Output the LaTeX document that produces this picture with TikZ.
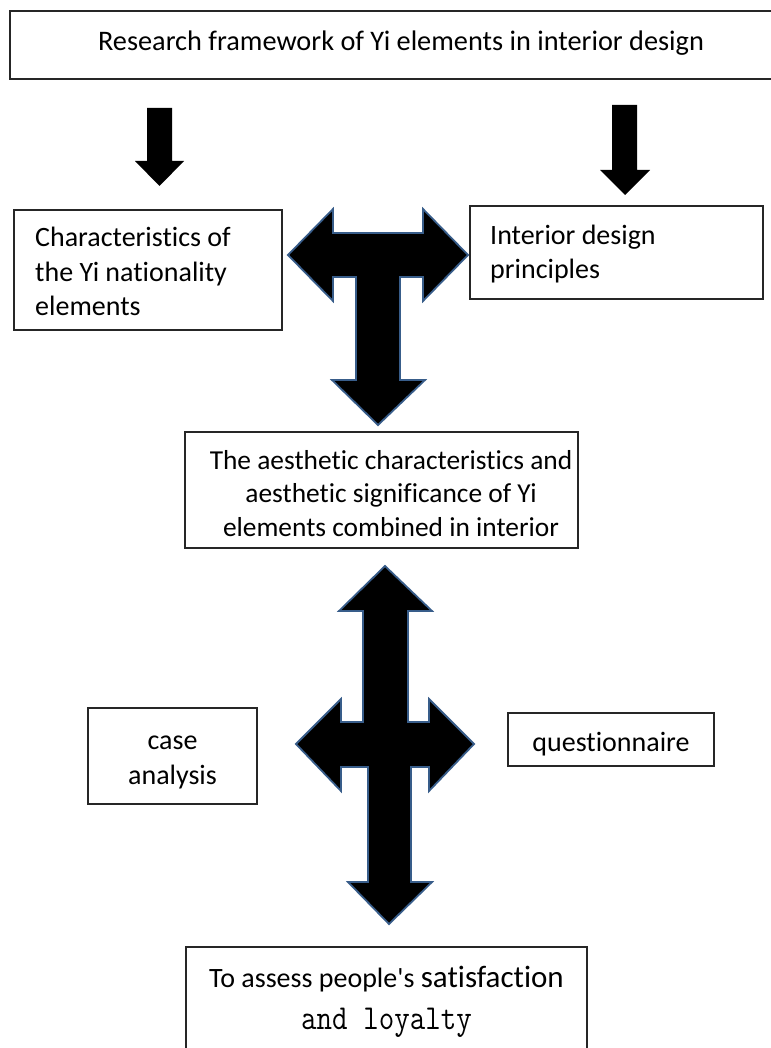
\documentclass[tikz,border=0pt]{standalone}
\usepackage{graphicx}
\usepackage{fontspec}
\setmainfont{Carlito}[Ligatures={TeXOff,CommonOff,ContextualOff},RawFeature=-calt]
\definecolor{arrowline}{HTML}{385D8A}
\begin{document}
\begin{tikzpicture}[x=1pt,y=-1pt,
  box/.style={draw=black!85, line width=1.2pt, inner sep=0pt},
  lbl/.style={inner sep=0pt, font=\fontsize{28}{34.5}\selectfont},
  blockarrow/.style={fill=black, draw=arrowline, line width=1.8pt, line join=miter},
  smallarrow/.style={fill=black}]
\useasboundingbox (0,0) rectangle (770,1048);
\fill[white] (0,0) rectangle (770,1048);

% boxes
\node[box, minimum width=762pt, minimum height=68pt] (topbox) at (391,45) {};
\node[box, minimum width=268pt, minimum height=120pt] (leftbox) at (148,270) {};
\node[box, minimum width=293pt, minimum height=93pt] (rightbox) at (616.5,252.5) {};
\node[box, minimum width=393pt, minimum height=116pt] (midbox) at (381.5,490) {};
\node[box, minimum width=169pt, minimum height=96pt] (casebox) at (172.5,756) {};
\node[box, minimum width=206pt, minimum height=53pt] (questbox) at (611,739.5) {};
\node[box, minimum width=401pt, minimum height=106pt] (botbox) at (386.5,1000) {};

% texts (multi-line nodes: base anchor = last line baseline)
\node[lbl, anchor=base, font=\fontsize{28.3}{34.5}\selectfont] (toptext) at (401,51) {Research framework of Yi elements in interior design};
\node[lbl, anchor=base west, align=left] (lefttext) at (35,316) {Characteristics of\\the Yi nationality\\elements};
\node[lbl, anchor=base west, align=left] (righttext) at (490,279) {Interior design\\principles};
\node[lbl, anchor=base, align=center, font=\fontsize{27.4}{33.5}\selectfont] (midtext) at (391,536) {The aesthetic characteristics and\\aesthetic significance of Yi\\elements combined in interior};
\node[lbl, anchor=base, align=center] (casetext) at (172.5,784) {case\\analysis};
\node[lbl, anchor=base] (questtext) at (611,751) {questionnaire};
\node[lbl, anchor=base] (bottext1) at (386.5,987) {To assess people's {\fontsize{31}{34}\selectfont satisfaction}};
\node[inner sep=0pt, anchor=base, font=\fontsize{35}{38}\ttfamily] (bottext2) at (386.5,1029) {\scalebox{0.86}[1]{and loyalty}};

% small arrows
\fill[smallarrow] (147,108) -- (172,108) -- (172,161) -- (184,161) -- (159.5,186) -- (135,161) -- (147,161) -- cycle;
\fill[smallarrow] (612,105) -- (637,105) -- (637,170) -- (650,170) -- (625,195) -- (600,170) -- (612,170) -- cycle;

% T arrow
\draw[blockarrow] (288,255) -- (333,209) -- (333,233) -- (423,233) -- (423,209) -- (468,255)
  -- (423,301) -- (423,277) -- (400,277) -- (400,380) -- (425,380) -- (378,425) -- (332,380)
  -- (356,380) -- (356,277) -- (333,277) -- (333,301) -- cycle;

% cross arrow
\draw[blockarrow] (385,566) -- (432,611) -- (408,611) -- (408,722) -- (429,722) -- (429,699)
  -- (474,744) -- (429,791) -- (429,767) -- (411,767) -- (411,882) -- (432,882) -- (389,924)
  -- (348,882) -- (368,882) -- (368,767) -- (341,767) -- (341,791) -- (296,744) -- (341,699)
  -- (341,722) -- (363,722) -- (363,611) -- (339,611) -- cycle;
\end{tikzpicture}
\end{document}
